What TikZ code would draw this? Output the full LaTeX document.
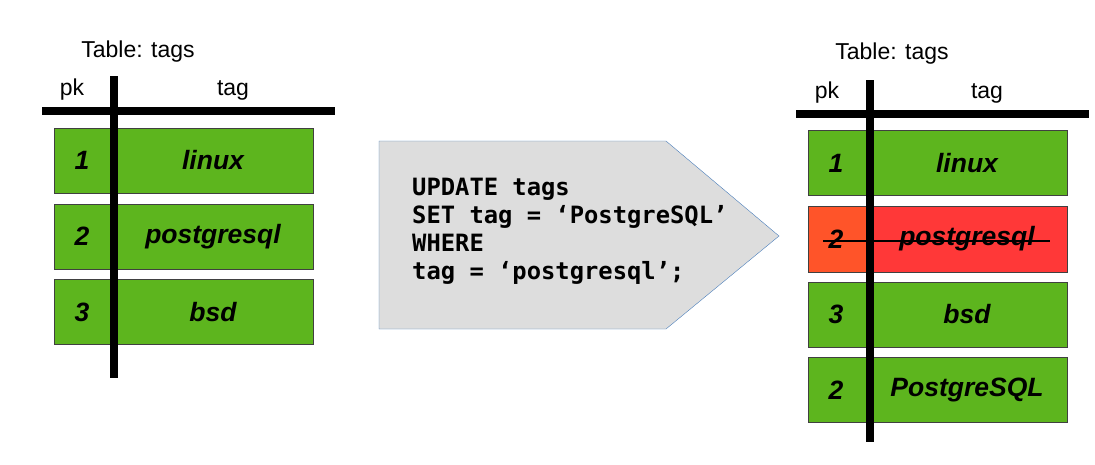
\documentclass[tikz,border=0pt]{standalone}
\usepackage{fontspec}
\setmainfont{Liberation Sans}
\setmonofont{DejaVu Sans Mono}
\usepackage{tikz}
\usetikzlibrary{positioning}

\definecolor{rowgreen}{HTML}{5DB51E}
\definecolor{pkorange}{HTML}{FF5429}
\definecolor{tagred}{HTML}{FF3838}
\definecolor{arrowgray}{HTML}{DDDDDD}
\definecolor{arrowblue}{HTML}{4A7EBB}

\begin{document}
\begin{tikzpicture}[x=1pt,y=-1pt]
    \tikzstyle{row} = [draw=black!75, fill=rowgreen, minimum width=259pt, minimum height=65pt, inner sep=0pt]
    \tikzstyle{cell} = [font=\fontsize{26.5}{30}\selectfont\bfseries\itshape]
    \tikzstyle{head} = [font=\fontsize{23}{27}\selectfont]
    \tikzstyle{bar} = [line width=7.5pt]

    \useasboundingbox (0,0) rectangle (1095,464);

    % Left table (before)
    \node[head] (ltitle) at (138,52) {Table: tags};
    \node[head] (lpk) at (72,90) {pk};
    \node[head] (ltag) at (233,90) {tag};
    \foreach \i/\y/\tag in {1/160.5/linux, 2/236.5/postgresql, 3/312/bsd} {
        \node[row] (lrow\i) at (183.5,\y) {};
        \node[cell] (lpk\i) at (82,\y) {\i};
        \node[cell] (ltag\i) at (213,\y) {\tag};
    }
    \coordinate (lvtop) at (114,76);
    \coordinate (lvbot) at (114,378);
    \coordinate (lhl) at (42,111);
    \coordinate (lhr) at (335,111);
    \draw[bar] (lhl) -- (lhr);
    \draw[bar] (lvtop) -- (lvbot);

    % Query arrow
    \draw[arrowblue, fill=arrowgray] (379,141) -- (666,141) -- (779,236) -- (666,329) -- (379,329) -- cycle;
    \node[anchor=west, align=left, inner sep=0pt, font=\fontsize{23.8}{28}\selectfont\ttfamily\bfseries] (query) at (412,231)
        {UPDATE tags\\SET tag = ‘PostgreSQL’\\WHERE\\tag = ‘postgresql’;};

    % Right table (after)
    \node[head] (rtitle) at (892,54) {Table: tags};
    \node[head] (rpk) at (827,93) {pk};
    \node[head] (rtag) at (987,93) {tag};
    \foreach \i/\y/\pk/\tag in {1/163/1/linux, 3/314.5/3/bsd, 4/390/2/PostgreSQL} {
        \node[row] (rrow\i) at (937.5,\y) {};
        \node[cell] (rpk\i) at (836,\y) {\pk};
        \node[cell] (rtag\i) at (967,\y) {\tag};
    }
    % old row is struck out
    \fill[tagred] (870,206) rectangle (1067,272);
    \fill[pkorange] (808,206) rectangle (870,272);
    \draw[black!75] (808,206) rectangle (1067,272);
    \node[cell] (rpk2) at (836,239) {2};
    \node[cell] (rtag2) at (967,239) {postgresql};
    \draw[line width=2pt] (823,241) -- (1050,241);

    \coordinate (rvtop) at (870,80);
    \coordinate (rvbot) at (870,442);
    \coordinate (rhl) at (796,114);
    \coordinate (rhr) at (1089,114);
    \draw[bar] (rhl) -- (rhr);
    \draw[bar] (rvtop) -- (rvbot);
\end{tikzpicture}
\end{document}
